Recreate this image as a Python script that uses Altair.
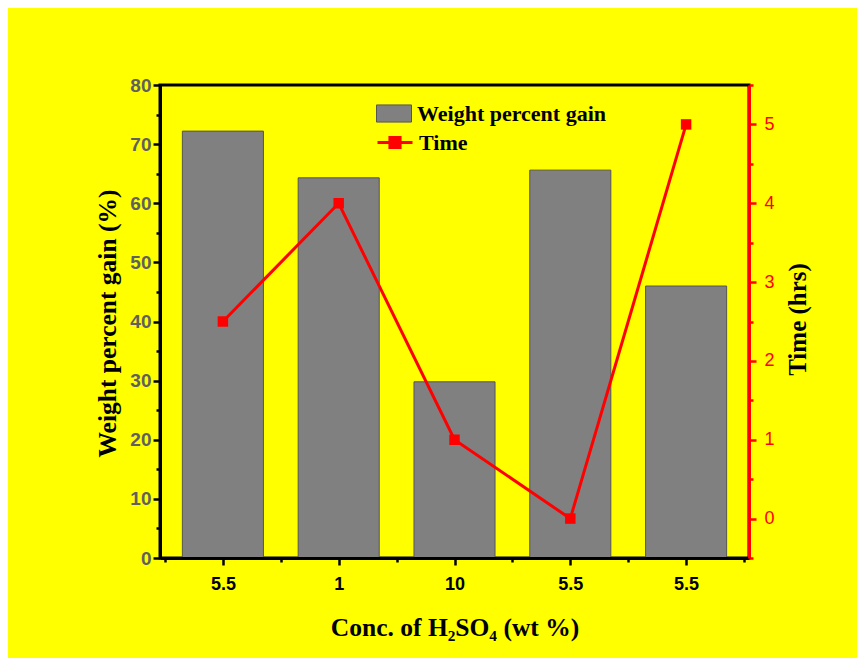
import altair as alt
import pandas as pd

conc_labels = ["5.5", "1", "10", "5.5", "5.5"]
weight_gain = [72.2, 64.3, 29.8, 65.6, 46.0]
time_hrs = [2.5, 4, 1, 0, 5]

df = pd.DataFrame({
    "idx": list(range(len(conc_labels))),
    "conc": conc_labels,
    "weight": weight_gain,
    "time": time_hrs,
    "s1": ["Weight percent gain"] * len(conc_labels),
    "s2": ["Time"] * len(conc_labels),
})

SERIF = "Liberation Serif"
SANS = "Liberation Sans"
W, H = 589, 473

label_arr = "[" + ",".join("'%s'" % c for c in conc_labels) + "]"

x_axis = alt.Axis(
    values=[i * 0.5 - 0.5 for i in range(11)],
    labelExpr="datum.value % 1 === 0 ? " + label_arr + "[datum.value] : ''",
    tickSize={"condition": {"test": "datum.value % 1 === 0", "value": 7}, "value": 4},
    tickColor="black", tickWidth=2.5, domainColor="black", domainWidth=3,
    labelFont=SANS, labelFontWeight="bold", labelFontSize=18, labelColor="black",
    labelPadding=10, grid=False, zindex=1,
    title="Conc. of H₂SO₄ (wt %)", titleFont=SERIF, titleFontWeight="bold",
    titleFontSize=25.5, titleColor="black", titleX=W / 2, titleY=69,
    titleBaseline="middle", titleAlign="center",
)
x_scale = alt.Scale(domain=[-0.5, 4.5], nice=False, zero=False)

y_axis = alt.Axis(
    values=list(range(0, 81, 5)),
    labelExpr="datum.value % 10 === 0 ? datum.label : ''",
    tickSize={"condition": {"test": "datum.value % 10 === 0", "value": 7}, "value": 4},
    tickColor="black", tickWidth=2.5, domainColor="black", domainWidth=3,
    labelFont=SANS, labelFontWeight="bold", labelFontSize=19, labelColor="#606060",
    labelPadding=2, grid=False, zindex=1,
    title="Weight percent gain (%)", titleFont=SERIF, titleFontWeight="bold",
    titleFontSize=25.5, titleColor="black", titleX=-53, titleY=238,
    titleBaseline="middle", titleAlign="center", titleAngle=270,
)

bars = alt.Chart(df).transform_calculate(
    x0="datum.idx - 0.35", x1="datum.idx + 0.35", base="0"
).mark_bar(stroke="#555555", strokeWidth=1, orient="vertical").encode(
    x=alt.X("x0:Q", scale=x_scale, axis=x_axis),
    x2="x1:Q",
    y=alt.Y("weight:Q", scale=alt.Scale(domain=[0, 80], nice=False), axis=y_axis),
    y2="base:Q",
    fill=alt.Fill("s1:N", scale=alt.Scale(domain=["Weight percent gain"], range=["#808080"]),
                  legend=alt.Legend(title=None, orient="none", legendX=216, legendY=10.5,
                                    padding=0, symbolType="M-1,-0.49H1V0.49H-1Z",
                                    symbolSize=1225, symbolStrokeColor="#555555",
                                    symbolStrokeWidth=1, symbolOpacity=1, labelLimit=0,
                                    labelFont=SERIF, labelFontWeight="bold",
                                    labelFontSize=22, labelColor="black", labelOffset=5)),
)

y2_axis = alt.Axis(
    orient="right",
    values=[i * 0.5 - 0.5 for i in range(13)],
    format="~g",
    labelExpr="(datum.value % 1 === 0 && datum.value >= 0) ? datum.label : ''",
    tickSize={"condition": {"test": "datum.value % 1 === 0", "value": 7}, "value": 4},
    tickColor="red", tickWidth=2.5, domainColor="red", domainWidth=3,
    labelFont=SANS, labelFontSize=18, labelColor="red",
    labelPadding=8, grid=False, zindex=1,
    title="Time (hrs)", titleFont=SERIF, titleFontWeight="bold",
    titleFontSize=25, titleColor="black", titleX=48.5, titleY=234,
    titleBaseline="middle", titleAlign="center", titleAngle=270,
)
y2_scale = alt.Scale(domain=[-0.5, 5.5], nice=False, zero=False)

line = alt.Chart(df).transform_calculate(x0="datum.idx").mark_line(strokeWidth=3).encode(
    x=alt.X("x0:Q", scale=x_scale, axis=x_axis),
    y=alt.Y("time:Q", scale=y2_scale, axis=y2_axis),
    stroke=alt.Stroke("s2:N", scale=alt.Scale(domain=["Time"], range=["red"]),
                      legend=alt.Legend(title=None, orient="none", legendX=216, legendY=38.5,
                                        padding=0,
                                        symbolType="M-1,0H1M-0.29,-0.29H0.29V0.29H-0.29Z",
                                        symbolSize=1225, symbolStrokeWidth=3,
                                        symbolFillColor="red", symbolOpacity=1, labelLimit=0,
                                        labelFont=SERIF, labelFontWeight="bold",
                                        labelFontSize=22, labelColor="black", labelOffset=5)),
)

points = alt.Chart(df).transform_calculate(x0="datum.idx").mark_square(
    size=110, color="red", opacity=1, filled=True
).encode(
    x=alt.X("x0:Q"),
    y=alt.Y("time:Q", scale=y2_scale, axis=y2_axis),
)

right = alt.layer(line, points)

chart = alt.layer(bars, right).resolve_scale(y="independent").properties(
    width=W, height=H,
    background="#ffff00",
    autosize=alt.AutoSizeParams(type="none"),
    padding={"left": 152, "top": 77, "right": 108, "bottom": 100},
).configure_view(stroke="black", strokeWidth=3)

chart.save("out.html", embed_options={"renderer": "svg", "actions": False})
